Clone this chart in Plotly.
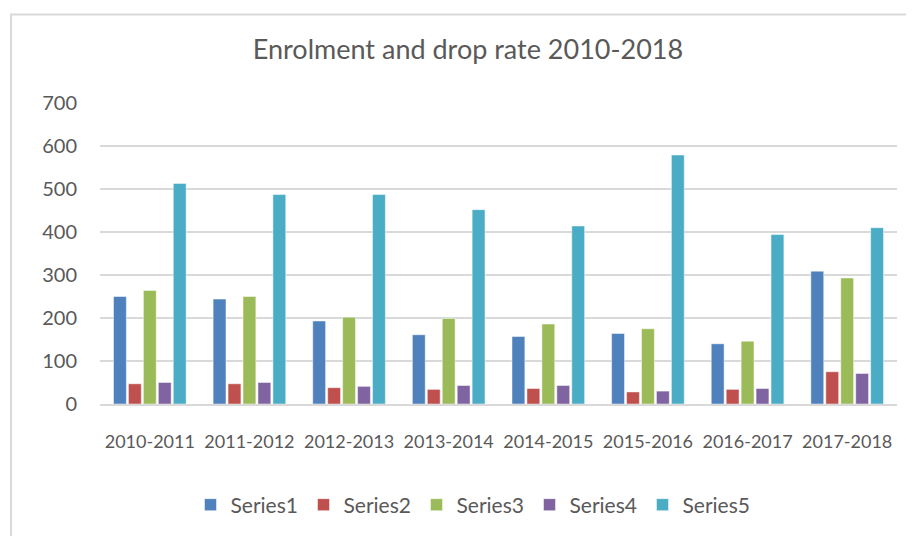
import plotly.graph_objects as go

# data
years = ["2010-2011", "2011-2012", "2012-2013", "2013-2014",
         "2014-2015", "2015-2016", "2016-2017", "2017-2018"]
series1 = [250, 244, 193, 161, 157, 164, 140, 309]
series2 = [47, 47, 38, 34, 36, 28, 34, 75]
series3 = [264, 250, 202, 199, 186, 175, 146, 293]
series4 = [50, 50, 41, 43, 43, 30, 36, 71]
series5 = [513, 487, 487, 452, 414, 579, 394, 410]

names = ["Series1", "Series2", "Series3", "Series4", "Series5"]
values = [series1, series2, series3, series4, series5]
colors = ["#4F81BD", "#C0504D", "#9BBB59", "#8064A2", "#4BACC6"]

font_family = "Lato, 'Open Sans', sans-serif"
text_col = "#595959"

# page body adds an 8px offset, so everything is laid out 8px up/left
off = 8
pl, pr, pt, pb = 100 - off, 897 - off, 103 - off, 404 - off
pw, ph = pr - pl, pb - pt

fig = go.Figure()
for name, vals, col in zip(names, values, colors):
    fig.add_trace(go.Bar(
        x=years,
        y=vals,
        name=name,
        marker=dict(color=col, line=dict(color="rgba(255,255,255,0.6)", width=0.8)),
    ))

# light outer frame like the spreadsheet chart area
fig.add_shape(type="rect", xref="paper", yref="paper",
              x0=(11 - off - pl) / pw, x1=(940 - pl) / pw,
              y0=(pb - 580) / ph, y1=(pb - (14.5 - off)) / ph,
              line=dict(color="#D9D9D9", width=2), layer="below")

fig.update_layout(
    width=914,
    height=536,
    margin={'l': pl, 'r': 914 - pr, 't': pt, 'b': 536 - pb, 'autoexpand': False},
    paper_bgcolor="white",
    plot_bgcolor="white",
    font=dict(family=font_family, color=text_col, size=18),
    title=dict(text="Enrolment and drop rate 2010-2018",
               x=(468 - off) / 914, xanchor="center", y=1 - (50 - off) / 536,
               yanchor="middle",
               font=dict(size=27, color=text_col, family=font_family)),
    barmode="group",
    bargap=0.25,
    bargroupgap=0.14,
    showlegend=True,
    legend=dict(orientation="h", x=(473 - off - pl) / pw, xanchor="center",
                y=(pb - (505 - off)) / ph, yanchor="middle",
                entrywidth=68, font=dict(size=21, color=text_col),
                itemwidth=30, traceorder="normal"),
    xaxis=dict(showgrid=False, showline=True, linecolor="#D9D9D9", linewidth=2,
               ticks="", ticklabelstandoff=20, tickangle=0, automargin=False,
               tickfont=dict(size=18)),
    yaxis=dict(range=[0, 700], dtick=100, showgrid=True, gridcolor="#D9D9D9",
               gridwidth=1.5, zeroline=False, ticks="", ticklabelstandoff=22,
               automargin=False, tickfont=dict(size=20)),
)

fig.write_html("out.html")
